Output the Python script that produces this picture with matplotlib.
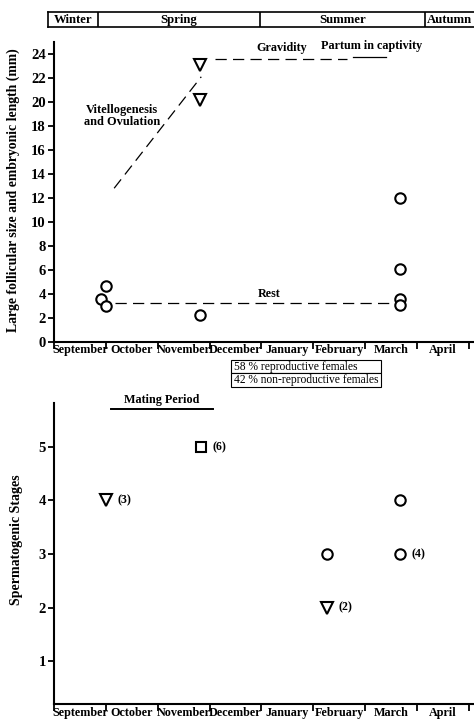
import matplotlib
matplotlib.use("Agg")
import matplotlib.pyplot as plt

plt.rcParams["font.family"] = ["Liberation Serif", "DejaVu Serif"]
plt.rcParams["font.weight"] = "bold"

# ---------------------------------------------------------------------------
# Data
# ---------------------------------------------------------------------------
months = ["September", "October", "November", "December", "January",
          "February", "March", "April"]

seasons = ["Winter", "Spring", "Summer", "Autumn"]
season_edges = [-0.12, 0.85, 3.97, 7.15, 8.1]

# females: large follicle / embryo size (mm)
rest_x = [0.9, 1.0, 1.0, 2.81, 6.67, 6.67, 6.67, 6.67]
rest_y = [3.6, 4.65, 2.97, 2.2, 11.95, 6.05, 3.6, 3.05]
grav_x = [2.81, 2.81]
grav_y = [23.1, 20.2]

vitello_line_x = [1.16, 2.84]
vitello_line_y = [12.8, 22.1]
gravid_line_x = [3.1, 5.66]
gravid_line_y = [23.55, 23.55]
rest_line_x = [1.17, 6.65]
rest_line_y = [3.2, 3.2]
partum_line_x = [5.77, 6.4]
partum_line_y = [23.75, 23.75]

repro_rows = [["58 % reproductive females"], ["42 % non-reproductive females"]]

# males: spermatogenic stages, (n)
tri_x, tri_y, tri_n = [1.01, 5.27], [4, 2], ["(3)", "(2)"]
sq_x, sq_y, sq_n = [2.83], [5], ["(6)"]
circ_x, circ_y, circ_n = [5.27, 6.68, 6.68], [3, 4, 3], ["", "", "(4)"]
mating_x = [1.1, 3.07]

# ---------------------------------------------------------------------------
# Figure
# ---------------------------------------------------------------------------
fig = plt.figure(figsize=(4.74, 7.21), dpi=100)
W, H = 474, 721


def px_axes(x0, y0, x1, y1):
    return fig.add_axes([x0 / W, 1 - y1 / H, (x1 - x0) / W, (y1 - y0) / H])


def style_axis(ax):
    for s in ("top", "right"):
        ax.spines[s].set_visible(False)
    for s in ("left", "bottom"):
        ax.spines[s].set_linewidth(1.5)
    ax.set_xlim(0, 8.1)
    ax.set_xticks(range(9))
    ax.set_xticklabels([])
    ax.set_xticks([i + 0.5 for i in range(8)], minor=True)
    ax.set_xticklabels(months, minor=True, fontsize=8.7, fontweight="bold")
    ax.tick_params(axis="x", which="minor", length=0, pad=2)
    ax.tick_params(axis="x", which="major", length=5, width=1.3, direction="out")
    ax.tick_params(axis="y", length=4, width=1.3, direction="out", labelsize=10.5, pad=2)


mk = dict(markerfacecolor="white", markeredgecolor="black", markeredgewidth=1.5,
          linestyle="none", clip_on=False)
dash = dict(color="black", linewidth=0.9, linestyle=(0, (9, 5)))

# --- season strip ----------------------------------------------------------
sax = px_axes(48, 12, 474, 27)
sax.set_xlim(season_edges[0], season_edges[-1])
sax.set_ylim(0, 1)
sax.set_xticks([]); sax.set_yticks([])
for s in ("left", "top", "bottom"):
    sax.spines[s].set_linewidth(1.2)
sax.spines["right"].set_visible(False)
for e in season_edges[1:-1]:
    sax.axvline(e, color="black", linewidth=1.2)
for i, name in enumerate(seasons):
    lo, hi = season_edges[i], season_edges[i + 1]
    if i == len(seasons) - 1:
        sax.text(lo + 0.05, 0.45, name, ha="left", va="center", fontsize=9.2)
    else:
        sax.text((lo + hi) / 2, 0.45, name, ha="center", va="center", fontsize=9.2)

# --- top panel: females ----------------------------------------------------
ax1 = px_axes(54, 42, 474, 341.7)
style_axis(ax1)
ax1.set_ylim(0, 25)
ax1.set_yticks(range(0, 25, 2))
for lab in ax1.get_yticklabels():
    lab.set_fontweight("bold")

ax1.plot(vitello_line_x, vitello_line_y, **dash)
ax1.plot(gravid_line_x, gravid_line_y, **dash)
ax1.plot(rest_line_x, rest_line_y, **dash)
ax1.plot(partum_line_x, partum_line_y, color="black", linewidth=0.9)

ax1.plot(rest_x, rest_y, marker="o", markersize=7.5, **mk)
ax1.plot(grav_x, grav_y, marker="v", markersize=8, **mk)

ax1.text(1.31, 18.8, "Vitellogenesis\nand Ovulation", ha="center", va="center",
         fontsize=8.9, linespacing=1.0)
ax1.text(4.4, 24.0, "Gravidity", ha="center", va="bottom", fontsize=8.7)
ax1.text(6.13, 24.2, "Partum in captivity", ha="center", va="bottom", fontsize=8.7,
         clip_on=False)
ax1.text(4.15, 3.5, "Rest", ha="center", va="bottom", fontsize=8.7)

ax1.set_ylabel("Large follicular size and embryonic length (mm)", fontsize=9.9,
               fontweight="bold")
ax1.yaxis.set_label_coords(-0.08, 0.505)

tbl = ax1.table(cellText=repro_rows, cellLoc="left",
                bbox=[3.41 / 8.1, -0.150, 2.9 / 8.1, 0.089])
tbl.auto_set_font_size(False)
tbl.set_fontsize(8.3)
for cell in tbl.get_celld().values():
    cell.set_linewidth(0.8)
    cell.PAD = 0.02
    cell.get_text().set_fontweight("normal")

# --- bottom panel: males ---------------------------------------------------
ax2 = px_axes(54, 403, 474, 704)
style_axis(ax2)
ax2.set_ylim(0.2, 5.82)
ax2.set_yticks([1, 2, 3, 4, 5])
for lab in ax2.get_yticklabels():
    lab.set_fontweight("bold")

ax2.plot(tri_x, tri_y, marker="v", markersize=8, **mk)
ax2.plot(sq_x, sq_y, marker="s", markersize=7, **mk)
ax2.plot(circ_x, circ_y, marker="o", markersize=7.5, **mk)
for xs, ys, ns in ((tri_x, tri_y, tri_n), (sq_x, sq_y, sq_n), (circ_x, circ_y, circ_n)):
    for x, y, n in zip(xs, ys, ns):
        if n:
            ax2.text(x + 0.22, y, n, ha="left", va="center", fontsize=8.5)

ax2.plot(mating_x, [5.7, 5.7], color="black", linewidth=1.4, clip_on=False)
ax2.text(sum(mating_x) / 2, 5.77, "Mating Period", ha="center", va="bottom",
         fontsize=8.7, clip_on=False)

ax2.set_ylabel("Spermatogenic Stages", fontsize=10, fontweight="bold")
ax2.yaxis.set_label_coords(-0.074, 0.545)

fig.savefig("out.png", dpi=100)
